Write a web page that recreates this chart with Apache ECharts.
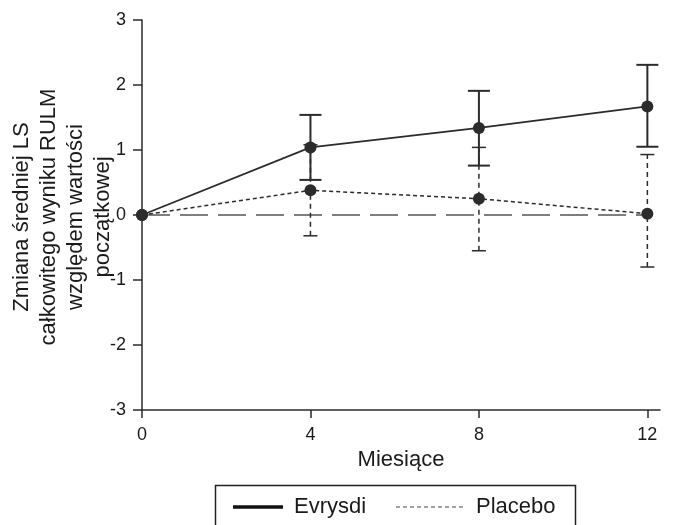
<!DOCTYPE html>
<html><head><meta charset="utf-8">
<script src="https://cdn.jsdelivr.net/npm/echarts@6/dist/echarts.min.js"></script>
<style>html,body{margin:0;padding:0;background:#fff}#c{width:675px;height:525px}</style>
</head><body><div id="c"></div>
<script>
var months = [0, 4, 8, 12];
var evrysdi = [0, 1.04, 1.34, 1.67];
var evrysdiLow = [null, 0.54, 0.76, 1.05];
var evrysdiHigh = [null, 1.54, 1.91, 2.31];
var placebo = [0, 0.38, 0.25, 0.02];
var placeboLow = [null, -0.32, -0.55, -0.80];
var placeboHigh = [null, 1.08, 1.04, 0.93];
var yTicks = [-3, -2, -1, 0, 1, 2, 3];
var xTicks = [0, 4, 8, 12];
var seriesNames = ['Evrysdi', 'Placebo'];
var xName = 'Miesiące';
var yName = 'Zmiana średniej LS\ncałkowitego wyniku RULM\nwzględem wartości\npoczątkowej';

var FONT = '"Liberation Sans", Arial, sans-serif';
var DARK = '#2b2b2b';
var TXT = '#1a1a1a';

function errData(lo, hi) {
  var out = [];
  for (var i = 0; i < months.length; i++) {
    if (lo[i] != null) out.push([months[i], lo[i], hi[i]]);
  }
  return out;
}
function errRender(cap, dashed, width) {
  return function (params, api) {
    var x = api.value(0);
    var p1 = api.coord([x, api.value(1)]);
    var p2 = api.coord([x, api.value(2)]);
    var st = { stroke: DARK, lineWidth: width, lineDash: dashed ? [5, 4] : null };
    var st2 = { stroke: DARK, lineWidth: width };
    return { type: 'group', children: [
      { type: 'line', shape: { x1: p1[0], y1: p1[1], x2: p2[0], y2: p2[1] }, style: st },
      { type: 'line', shape: { x1: p1[0] - cap, y1: p1[1], x2: p1[0] + cap, y2: p1[1] }, style: st2 },
      { type: 'line', shape: { x1: p2[0] - cap, y1: p2[1], x2: p2[0] + cap, y2: p2[1] }, style: st2 }
    ]};
  };
}

var chart = echarts.init(document.getElementById('c'));
chart.setOption({
  animation: false,
  grid: { left: 142, right: 15, top: 20, bottom: 115, outerBoundsMode: 'none', containLabel: false },
  xAxis: {
    type: 'value', min: 0, max: 12.3, interval: 4,
    name: xName, nameLocation: 'middle', nameGap: 33,
    nameTextStyle: { fontFamily: FONT, fontSize: 22, color: TXT },
    axisLine: { onZero: false, lineStyle: { color: DARK, width: 1.5 } },
    axisTick: { show: true, length: 8, lineStyle: { color: DARK, width: 1.5 }, customValues: xTicks },
    axisLabel: { fontFamily: FONT, fontSize: 18, color: TXT, margin: 16, customValues: xTicks },
    splitLine: { show: false }
  },
  yAxis: {
    type: 'value', min: -3, max: 3, interval: 1,
    axisLine: { show: true, lineStyle: { color: DARK, width: 1.5 } },
    axisTick: { show: true, length: 9, lineStyle: { color: DARK, width: 1.5 } },
    axisLabel: { fontFamily: FONT, fontSize: 18, color: TXT, margin: 16 },
    splitLine: { show: false }
  },
  series: [
    {
      type: 'line', data: months.map(function (m) { return [m, 0]; }),
      symbol: 'none', z: 1, silent: true,
      lineStyle: { color: '#555', width: 1.5, type: [28, 10] }
    },
    {
      type: 'custom', name: seriesNames[1] + ' err', z: 2,
      renderItem: errRender(7, true, 1.5), data: errData(placeboLow, placeboHigh)
    },
    {
      type: 'custom', name: seriesNames[0] + ' err', z: 3,
      renderItem: errRender(11, false, 2), data: errData(evrysdiLow, evrysdiHigh)
    },
    {
      type: 'line', name: seriesNames[1], z: 4,
      data: months.map(function (m, i) { return [m, placebo[i]]; }),
      symbol: 'circle', symbolSize: 12,
      itemStyle: { color: DARK },
      lineStyle: { color: DARK, width: 1.5, type: [4, 3] }
    },
    {
      type: 'line', name: seriesNames[0], z: 5,
      data: months.map(function (m, i) { return [m, evrysdi[i]]; }),
      symbol: 'circle', symbolSize: 12,
      itemStyle: { color: DARK },
      lineStyle: { color: DARK, width: 1.8 }
    }
  ],
  graphic: [
    { type: 'text', x: 62, y: 217, rotation: Math.PI / 2, z: 10,
      style: { text: yName, font: '22px ' + FONT, lineHeight: 27, fill: TXT, align: 'center', verticalAlign: 'middle' } },
    { type: 'rect', shape: { x: 215.5, y: 485.5, width: 360, height: 45 }, style: { fill: '#fff', stroke: '#222', lineWidth: 1.5 } },
    { type: 'line', shape: { x1: 233, y1: 507, x2: 283, y2: 507 }, style: { stroke: '#111', lineWidth: 3.5 } },
    { type: 'text', x: 294, y: 507, style: { text: seriesNames[0], font: '22px ' + FONT, fill: TXT, verticalAlign: 'middle' } },
    { type: 'line', shape: { x1: 396, y1: 507, x2: 463, y2: 507 }, style: { stroke: '#444', lineWidth: 1, lineDash: [4, 3] } },
    { type: 'text', x: 476, y: 507, style: { text: seriesNames[1], font: '22px ' + FONT, fill: TXT, verticalAlign: 'middle' } }
  ]
});
</script></body></html>
